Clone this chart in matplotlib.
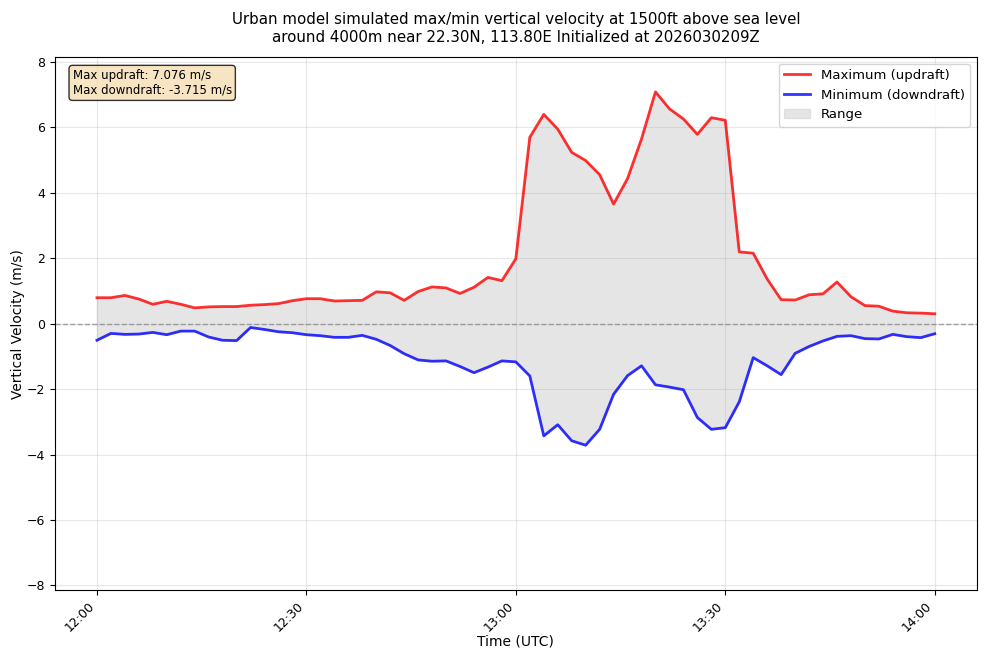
import datetime as dt
import numpy as np
import matplotlib
matplotlib.use('Agg')
import matplotlib.pyplot as plt
import matplotlib.dates as mdates

# Max / min vertical velocity every 2 minutes, 12:00 - 14:00 UTC
w_max = [0.79, 0.79, 0.86, 0.75, 0.59, 0.68, 0.59, 0.48, 0.51, 0.52,
         0.52, 0.56, 0.58, 0.61, 0.70, 0.76, 0.76, 0.69, 0.70, 0.71,
         0.97, 0.94, 0.71, 0.98, 1.12, 1.09, 0.92, 1.11, 1.41, 1.31,
         1.98, 5.69, 6.39, 5.94, 5.23, 4.98, 4.55, 3.65, 4.43, 5.64,
         7.076, 6.56, 6.25, 5.78, 6.29, 6.21, 2.19, 2.15, 1.36, 0.73,
         0.72, 0.88, 0.91, 1.27, 0.82, 0.55, 0.53, 0.38, 0.33, 0.32,
         0.30]
w_min = [-0.51, -0.30, -0.33, -0.32, -0.27, -0.34, -0.23, -0.23, -0.41, -0.51,
         -0.52, -0.12, -0.18, -0.25, -0.28, -0.34, -0.37, -0.42, -0.42, -0.36,
         -0.48, -0.67, -0.92, -1.11, -1.15, -1.14, -1.31, -1.50, -1.33, -1.14,
         -1.17, -1.60, -3.43, -3.09, -3.58, -3.715, -3.23, -2.16, -1.59, -1.29,
         -1.87, -1.94, -2.02, -2.87, -3.23, -3.18, -2.39, -1.04, -1.29, -1.56,
         -0.91, -0.70, -0.53, -0.39, -0.37, -0.46, -0.47, -0.33, -0.40, -0.43,
         -0.31]

start = dt.datetime(2026, 3, 2, 12, 0)
times = [start + dt.timedelta(minutes=2 * i) for i in range(len(w_max))]

fig = plt.figure(figsize=(9.92, 6.57), dpi=100)
ax = fig.add_axes([0.0555, 0.102, 0.929, 0.811])

ax.fill_between(times, w_min, w_max, color='#cccccc', alpha=0.5, label='Range')
ax.plot(times, w_max, color='red', lw=2, alpha=0.8, label='Maximum (updraft)')
ax.plot(times, w_min, color='blue', lw=2, alpha=0.8, label='Minimum (downdraft)')
ax.axhline(0, color='gray', ls='--', lw=1, alpha=0.7)

# symmetric y range around zero
lim = max(max(w_max), -min(w_min)) * 1.15
ax.set_ylim(-lim, lim)
ax.xaxis.set_major_locator(mdates.MinuteLocator(byminute=[0, 30]))
ax.xaxis.set_major_formatter(mdates.DateFormatter('%H:%M'))
ax.tick_params(labelsize=9)
plt.setp(ax.get_xticklabels(), rotation=45, ha='right')
ax.grid(True, alpha=0.3)

ax.set_xlabel('Time (UTC)', fontsize=10, labelpad=0)
ax.set_ylabel('Vertical Velocity (m/s)', fontsize=9.8, labelpad=1)
ax.set_title('Urban model simulated max/min vertical velocity at 1500ft above sea level\n'
             'around 4000m near 22.30N, 113.80E Initialized at 2026030209Z',
             fontsize=10.8, pad=11)

handles, labels = ax.get_legend_handles_labels()
order = [1, 2, 0]
ax.legend([handles[i] for i in order], [labels[i] for i in order],
          loc='upper right', fontsize=9.5)

ax.text(0.019, 0.978, 'Max updraft: %.3f m/s\nMax downdraft: %.3f m/s' % (max(w_max), min(w_min)),
        transform=ax.transAxes, va='top', fontsize=8.5,
        bbox=dict(boxstyle='round', facecolor='wheat', alpha=0.8))

fig.savefig('out.png', dpi=100)
